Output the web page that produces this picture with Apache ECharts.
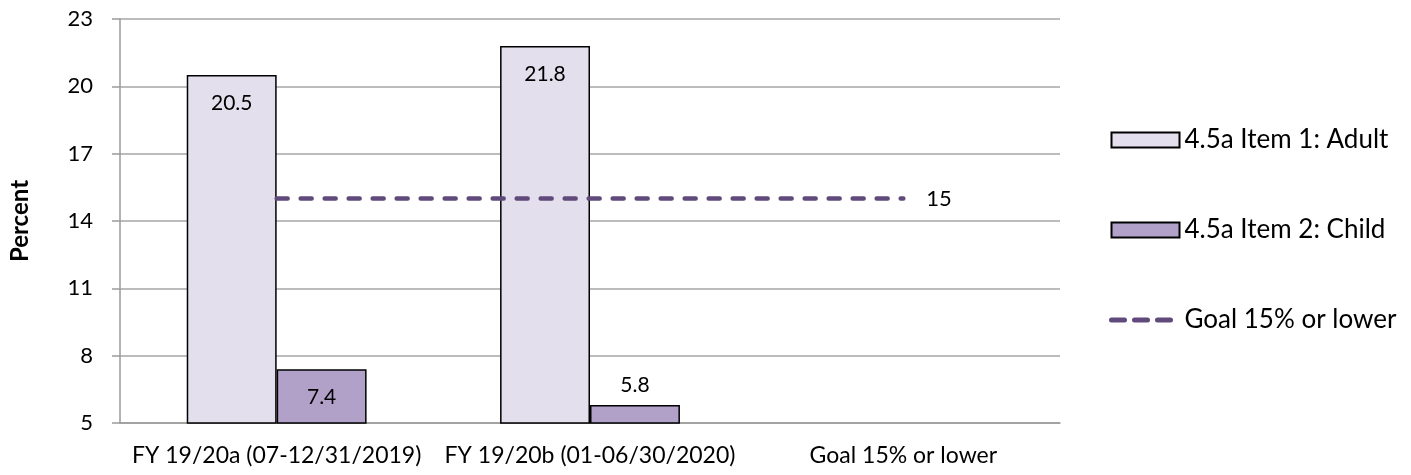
<!DOCTYPE html>
<html>
<head>
<meta charset="utf-8">
<script src="https://cdn.jsdelivr.net/npm/echarts@6/dist/echarts.min.js"></script>
<style>
  html, body { margin: 0; padding: 0; background: #ffffff; }
  #chart { width: 1411px; height: 475px; }
</style>
</head>
<body>
<div id="chart"></div>
<script>
// Reporting periods along the category axis
const categories = ['FY 19/20a (07-12/31/2019)', 'FY 19/20b (01-06/30/2020)', 'Goal 15% or lower'];
// Percent values per measure
const adultValues = [20.5, 21.8, null];
const childValues = [7.4, 5.8, null];
const goalValues = [15, 15, 15];
// Value axis range
const yMin = 5;
const yMax = 23;
const yStep = 3;

const FONT = 'Lato';
const AXIS_SIZE = 22;
const CATEGORY_SIZE = 23;
const VALUE_SIZE = 21;
const LEGEND_SIZE = 26;

// Short bars get their value label above the bar instead of inside it
function barData(values) {
  return values.map(v => {
    if (v == null) return null;
    const inside = (v - yMin) > 1.5;
    return {
      value: v,
      label: inside
        ? { position: 'insideTop', distance: 18 }
        : { position: 'top', distance: 9 }
    };
  });
}

const chart = echarts.init(document.getElementById('chart'), null, { renderer: 'canvas' });

chart.setOption({
  animation: false,
  textStyle: { fontFamily: FONT, color: '#000' },
  grid: { left: 120, right: 351, top: 19, bottom: 52, containLabel: false },
  legend: {
    orient: 'vertical',
    left: 1104,
    top: 122,
    itemWidth: 68,
    itemHeight: 15,
    itemGap: 64,
    itemTextGap: 8,
    textStyle: { fontFamily: FONT, fontSize: LEGEND_SIZE, color: '#000' },
    data: [
      { name: '4.5a Item 1: Adult', icon: 'rect' },
      { name: '4.5a Item 2: Child', icon: 'rect' },
      {
        name: 'Goal 15% or lower',
        itemStyle: { color: 'rgba(0,0,0,0)', borderColor: 'rgba(0,0,0,0)', borderWidth: 0 },
        lineStyle: { type: [13, 10], width: 5, cap: 'round' }
      }
    ]
  },
  xAxis: {
    type: 'category',
    data: categories,
    boundaryGap: true,
    axisLine: { show: true, lineStyle: { color: '#9a9a9a', width: 1.5 } },
    axisTick: { show: false },
    axisLabel: { margin: 21, fontFamily: FONT, fontSize: CATEGORY_SIZE, color: '#000', interval: 0 }
  },
  yAxis: {
    type: 'value',
    min: yMin,
    max: yMax,
    interval: yStep,
    name: 'Percent',
    nameLocation: 'middle',
    nameGap: 88,
    nameRotate: 90,
    nameTextStyle: { fontFamily: FONT, fontSize: 24, fontWeight: 'bold', color: '#000' },
    axisLine: { show: true, lineStyle: { color: '#9a9a9a', width: 1.5 } },
    axisTick: { show: true, inside: false, length: 8, lineStyle: { color: '#9a9a9a', width: 1.5 } },
    axisLabel: { margin: 27, fontFamily: FONT, fontSize: AXIS_SIZE, color: '#000' },
    splitLine: { show: true, lineStyle: { color: '#a6a6a6', width: 1.5 } }
  },
  series: [
    {
      name: '4.5a Item 1: Adult',
      type: 'bar',
      data: barData(adultValues),
      barGap: '0%',
      barCategoryGap: '42.6%',
      itemStyle: { color: '#E4DFEC', borderColor: '#000', borderWidth: 1.5 },
      label: { show: true, fontFamily: FONT, fontSize: VALUE_SIZE, color: '#000' }
    },
    {
      name: '4.5a Item 2: Child',
      type: 'bar',
      data: barData(childValues),
      itemStyle: { color: '#B1A0C7', borderColor: '#000', borderWidth: 1.5 },
      label: { show: true, fontFamily: FONT, fontSize: VALUE_SIZE, color: '#000' }
    },
    {
      name: 'Goal 15% or lower',
      type: 'line',
      data: goalValues,
      symbol: 'none',
      z: 5,
      lineStyle: { color: '#604A7B', width: 4.5, type: [11, 13], cap: 'round' },
      itemStyle: { color: '#604A7B' },
      endLabel: {
        show: true,
        distance: 23,
        formatter: p => String(p.value),
        fontFamily: FONT,
        fontSize: 22,
        color: '#000'
      }
    }
  ]
});
</script>
</body>
</html>
